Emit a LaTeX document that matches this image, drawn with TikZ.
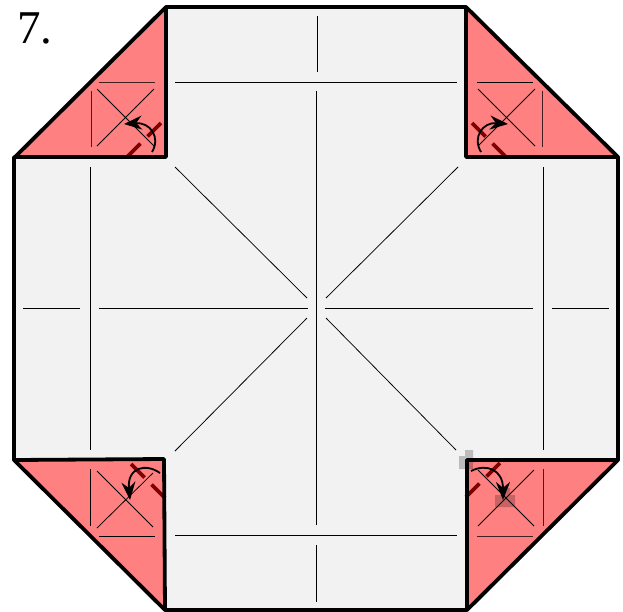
\documentclass[tikz,border=0pt]{standalone}
\usepackage{fontspec}
\setmainfont{Liberation Serif}
\usepackage{xcolor}
\usetikzlibrary{arrows.meta}
\definecolor{flapred}{HTML}{FF8080}
\definecolor{paper}{HTML}{F2F2F2}
\definecolor{folddash}{HTML}{800000}

\begin{document}
\begin{tikzpicture}[
  x=1pt, y=-1pt,
  edge/.style={draw=black, line width=3.8pt, line join=round},
  crease/.style={draw=black, line width=0.75pt},
  inflap/.style={draw=black!75!flapred, line width=0.75pt},
  fold/.style={draw=folddash, line width=3.6pt, dash pattern=on 19pt off 10pt},
  turn/.style={-{Stealth[length=18pt, width=14pt]}, line width=1.8pt},
  smudge/.style={fill=black, fill opacity=0.22, draw=none}
]
\useasboundingbox (0,0) rectangle (623,611);

% paper
\fill[paper] (166,7) -- (466,7) -- (618,157) -- (618,460) -- (467,610) -- (165,610) -- (14,460) -- (14,157) -- cycle;

% flaps
\fill[flapred] (15,157) -- (166,7) -- (166,157) -- cycle;
\fill[flapred] (466,7) -- (618,157) -- (466,157) -- cycle;
\fill[flapred] (14,460) -- (164,459) -- (165,610) -- cycle;
\fill[flapred] (467,460) -- (618,460) -- (467,610) -- cycle;

% creases on the paper
\draw[crease] (317,16) -- (317,72);
\draw[crease] (316.5,91) -- (316.5,525);
\draw[crease] (316,545) -- (316,602);
\draw[crease] (23,308.5) -- (80,308.5);
\draw[crease] (99,308.5) -- (308,308.5);
\draw[crease] (325,308.5) -- (533,308.5);
\draw[crease] (552,308.5) -- (609,308.5);
\draw[crease] (175,82.5) -- (457,82.5);
\draw[crease] (175,535.5) -- (457,535.5);
\draw[crease] (90.5,167) -- (90.5,450);
\draw[crease] (543,167) -- (543,450);
\draw[crease] (175,167) -- (307,298);
\draw[crease] (458,167) -- (326,298);
\draw[crease] (175,451) -- (307,318);
\draw[crease] (456,450) -- (326,318);

% top left flap
\draw[inflap] (99,82.5) -- (155,82.5);
\draw[inflap] (91,91) -- (91,147);
\draw[crease] (97,89) -- (154,146);
\draw[crease] (97,146) -- (154,89);
\draw[fold] (127,157) -- (162,122);
\draw[turn] (152,152) .. controls (161,137) and (150,122) .. (124,124);

% top right flap
\draw[crease] (477,82.5) -- (533,82.5);
\draw[inflap] (542,91) -- (542,147);
\draw[crease] (478,89) -- (535,146);
\draw[crease] (478,146) -- (535,89);
\draw[fold] (506,157) -- (471,122);
\draw[turn] (481,152) .. controls (472,137) and (483,122) .. (508,124);

% bottom left flap
\draw[crease] (90.5,469) -- (90.5,526);
\draw[crease] (99,536) -- (155,536);
\draw[crease] (97,471) -- (153,527);
\draw[crease] (97,528) -- (153,473);
\draw[fold] (165,498) -- (130,463);
\draw[turn] (160,473) .. controls (146,463) and (127,467) .. (130,500);

% bottom right flap
\draw[inflap] (477,536) -- (533,536);
\draw[inflap] (543,469) -- (543,526);
\draw[crease] (478,526) -- (534,470);
\draw[crease] (478,470) -- (534,526);
\draw[fold] (466,497) -- (501,462);
\draw[turn] (471,471) .. controls (487,463) and (503,470) .. (503,500);

% outline
\draw[edge] (15,157) -- (166,7) -- (466,7) -- (618,157) -- (618,460) -- (467,610) -- (165,610) -- (14,460) -- (14,157) -- cycle;
\draw[edge] (15,157) -- (166,157) -- (166,7);
\draw[edge] (466,7) -- (466,157) -- (618,157);
\draw[edge] (14,460) -- (164,459) -- (165,610);
\draw[edge] (618,460) -- (467,460) -- (467,610);

% marks left on the scan
\fill[smudge] (465,450) -- (473,450) -- (473,469) -- (459,469) -- (459,456) -- (465,456) -- cycle;
\fill[smudge] (503,488) -- (510,488) -- (510,495) -- (515,495) -- (515,507) -- (495,507) -- (495,495) -- (503,495) -- cycle;

\node[anchor=base west, inner sep=0pt, font=\fontsize{47}{47}\selectfont] (stepno) at (17,43) {7.};
\end{tikzpicture}
\end{document}
